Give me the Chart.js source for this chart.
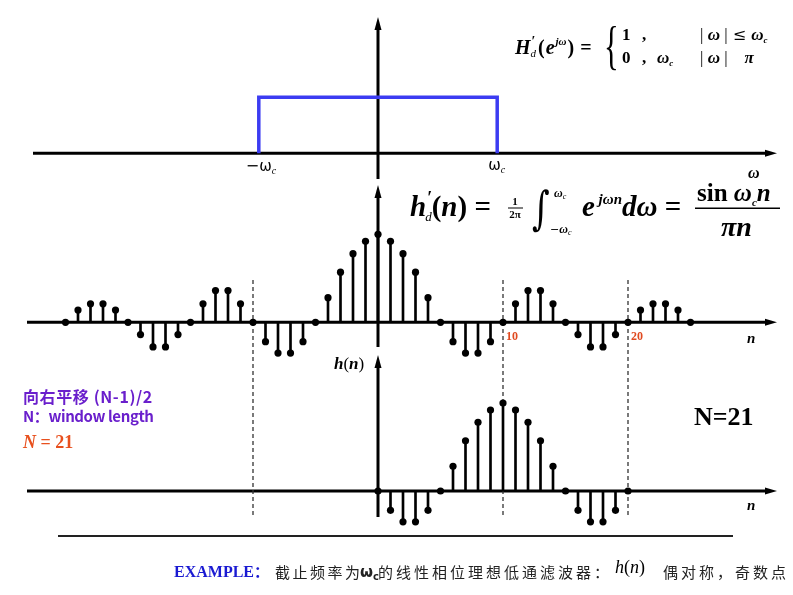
<!DOCTYPE html>
<html><head><meta charset="utf-8">
<script src="https://cdn.jsdelivr.net/npm/chart.js@4.4.1/dist/chart.umd.min.js"></script>
<style>html,body{margin:0;padding:0;background:#fff}#wrap{width:793px;height:595px;position:relative}</style>
</head><body><div id="wrap"><canvas id="c" width="793" height="595"></canvas></div>
<script>
// ---- data ----
// ideal low-pass response, ω in units of ωc
const omegaPts = [-1, -1, 1, 1];
const HdMag    = [0, 1, 1, 0];
// ideal impulse response h'd(n), normalised so h'd(0)=1
const nIdeal = [-25,-24,-23,-22,-21,-20,-19,-18,-17,-16,-15,-14,-13,-12,-11,-10,-9,-8,-7,-6,-5,-4,-3,-2,-1,0,
                1,2,3,4,5,6,7,8,9,10,11,12,13,14,15,16,17,18,19,20,21,22,23,24,25];
const hdIdeal = [0,0.14,0.21,0.21,0.14,0,-0.14,-0.28,-0.28,-0.14,0,0.21,0.36,0.36,0.21,0,-0.22,-0.35,-0.35,-0.22,0,0.28,0.57,0.78,0.92,1,
                 0.92,0.78,0.57,0.28,0,-0.22,-0.35,-0.35,-0.22,0,0.21,0.36,0.36,0.21,0,-0.14,-0.28,-0.28,-0.14,0,0.14,0.21,0.21,0.14,0];
// shifted, windowed h(n), N = 21
const nShift = [0,1,2,3,4,5,6,7,8,9,10,11,12,13,14,15,16,17,18,19,20];
const hShift = [0,-0.22,-0.35,-0.35,-0.22,0,0.28,0.57,0.78,0.92,1,0.92,0.78,0.57,0.28,0,-0.22,-0.35,-0.35,-0.22,0];
// dashed window marks and tick labels
const windowMarks = [-10, 10, 20];
const tickValues  = [10, 20];
const tickLabels  = ['10', '20'];

const W = 793, H = 595;
const pts = (xs, ys) => xs.map((x, i) => ({x: x, y: ys[i]}));

function seq(ctx, x, y, parts) {
  ctx.textAlign = 'left'; ctx.textBaseline = 'alphabetic';
  for (const p of parts) {
    const [t, f, dy = 0, dx = 0] = p;
    ctx.font = f;
    ctx.fillText(t, x + dx, y + dy);
    x += dx + ctx.measureText(t).width;
  }
  return x;
}
function hArrow(ctx, x1, x2, y) {
  ctx.beginPath(); ctx.moveTo(x1, y); ctx.lineTo(x2 - 8, y); ctx.stroke();
  ctx.beginPath(); ctx.moveTo(x2, y); ctx.lineTo(x2 - 12, y - 3.5); ctx.lineTo(x2 - 12, y + 3.5); ctx.closePath(); ctx.fill();
}
function vArrow(ctx, x, y1, y2) { // y2 = tip (top)
  ctx.beginPath(); ctx.moveTo(x, y1); ctx.lineTo(x, y2 + 8); ctx.stroke();
  ctx.beginPath(); ctx.moveTo(x, y2); ctx.lineTo(x - 3.5, y2 + 13); ctx.lineTo(x + 3.5, y2 + 13); ctx.closePath(); ctx.fill();
}

const SER = "'Liberation Serif'";
const deco = {
  id: 'deco',
  beforeDatasetsDraw(chart) {
    const ctx = chart.ctx, s = chart.scales;
    const x0 = s.x.getPixelForValue(0);
    const yT = s.yTop.getPixelForValue(0), yM = s.yMid.getPixelForValue(0), yB = s.yBot.getPixelForValue(0);
    ctx.save();
    ctx.strokeStyle = '#000'; ctx.fillStyle = '#000'; ctx.lineWidth = 3;
    hArrow(ctx, 33, 777, yT);
    hArrow(ctx, 27, 777, yM);
    hArrow(ctx, 27, 777, yB);
    vArrow(ctx, x0, 179, 17);
    vArrow(ctx, x0, 347, 185);
    vArrow(ctx, x0, 517, 355);
    // dashed window marks
    ctx.lineWidth = 1.3; ctx.strokeStyle = '#333'; ctx.setLineDash([4, 3]);
    for (const m of windowMarks) {
      const px = s.x.getPixelForValue(m);
      ctx.beginPath(); ctx.moveTo(px, 280); ctx.lineTo(px, 515); ctx.stroke();
    }
    ctx.setLineDash([]);
    // separator
    ctx.strokeStyle = '#222'; ctx.lineWidth = 2;
    ctx.beginPath(); ctx.moveTo(58, 536); ctx.lineTo(733, 536); ctx.stroke();
    ctx.restore();
  },
  afterDatasetsDraw(chart) {
    const ctx = chart.ctx, s = chart.scales;
    ctx.save();
    ctx.fillStyle = '#000';
    // ω-axis labels
    const wl = s.xw.getPixelForValue(-1), wr = s.xw.getPixelForValue(1);
    seq(ctx, wl - 13, 171, [['−', "16px 'DejaVu Sans'"], ['ω', "15px 'DejaVu Sans'"], ['c', "italic 10px " + SER, 3]]);
    seq(ctx, wr - 9, 170, [['ω', "15px 'DejaVu Sans'"], ['c', "italic 10px " + SER, 3]]);
    seq(ctx, 748, 178, [['ω', "bold italic 16px " + SER]]);
    // n labels
    seq(ctx, 747, 343, [['n', "bold italic 15px " + SER]]);
    seq(ctx, 747, 510, [['n', "bold italic 15px " + SER]]);
    seq(ctx, 334, 369, [['h', "bold italic 17px " + SER], ['(', "17px " + SER], ['n', "bold italic 17px " + SER], [')', "17px " + SER]]);
    // red tick labels
    ctx.fillStyle = '#e04a20';
    tickValues.forEach((v, i) => {
      seq(ctx, s.x.getPixelForValue(v) + 3, 340, [[tickLabels[i], "bold 12px " + SER]]);
    });
    // top formula
    ctx.fillStyle = '#000';
    const B16 = "bold 17px " + SER, BI16 = "bold italic 17px " + SER;
    const B19 = "bold 20px " + SER, BI19 = "bold italic 20px " + SER;
    seq(ctx, 515, 54, [['H', BI19], ['′', "bold 14px " + SER, -8, 1], ['d', "italic 11px " + SER, 3, -5], ['(', B19, 0, 2], ['e', BI19, 0, 1], ['jω', "bold italic 11px " + SER, -9, 1], [')', B19, 0, 1], ['=', B19, 0, 6]]);
    ctx.save(); ctx.translate(604, 63); ctx.scale(0.9, 1.55); ctx.font = "34px " + SER; ctx.fillText('{', 0, 0); ctx.restore();
    seq(ctx, 622, 40, [['1', B16]]); seq(ctx, 642, 40, [[',', B16]]);
    seq(ctx, 622, 63, [['0', B16]]); seq(ctx, 642, 63, [[',', B16]]);
    seq(ctx, 657, 63, [['ω', BI16], ['c', "bold italic 9px " + SER, 3]]);
    seq(ctx, 700, 40, [['| ', "17px " + SER], ['ω', BI16], [' |', "17px " + SER], [' ≤ ', "16px 'DejaVu Serif'"], ['ω', BI16], ['c', "bold italic 9px " + SER, 3]]);
    seq(ctx, 700, 63, [['| ', "17px " + SER], ['ω', BI16], [' |', "17px " + SER], ['    π', BI16]]);
    // middle formula
    const B28 = "bold 29px " + SER, BI28 = "bold italic 29px " + SER;
    seq(ctx, 410, 216, [['h', BI28], ['′', "bold 18px " + SER, -12, 1], ['d', "italic 13px " + SER, 5, -7], ['(', B28], ['n', BI28], [')', B28], [' = ', B28]]);
    ctx.font = "bold 11px " + SER; ctx.textAlign = 'center';
    ctx.fillText('1', 515, 205); ctx.fillText('2π', 515, 218);
    ctx.fillRect(508, 207.5, 15, 1);
    ctx.save(); ctx.translate(532, 224); ctx.scale(1, 1.35); ctx.font = "34px 'DejaVu Serif'"; ctx.textAlign = 'left'; ctx.fillText('∫', 0, 0); ctx.restore();
    seq(ctx, 554, 197, [['ω', "bold italic 12px " + SER], ['c', "italic 8px " + SER, 2]]);
    seq(ctx, 550, 233, [['−', "11px 'DejaVu Sans'"], ['ω', "bold italic 12px " + SER], ['c', "italic 8px " + SER, 2]]);
    seq(ctx, 582, 216, [['e', BI28], [' jωn', "bold italic 15px " + SER, -12], ['dω', BI28], [' =', B28]]);
    seq(ctx, 697, 201, [['sin ', "bold 25px " + SER], ['ω', "bold italic 25px " + SER], ['c', "bold italic 11px " + SER, 5], ['n', "bold italic 25px " + SER]]);
    ctx.fillRect(695, 207.5, 85, 1.5);
    seq(ctx, 721, 236, [['πn', "bold italic 28px " + SER]]);
    // N=21
    seq(ctx, 694, 425, [['N=21', "bold 26px " + SER]]);
    // left notes
    ctx.fillStyle = '#6a1fcc';
    ctx.textBaseline = 'middle';
    ctx.textAlign = 'left';
    ctx.font = "bold 16px 'Noto Sans CJK SC'";
    ctx.letterSpacing = '0.6px';
    ctx.fillText('向右平移 (N-1)/2', 23, 397);
    ctx.font = "bold 15px 'Noto Sans CJK SC'";
    ctx.letterSpacing = '-0.4px';
    ctx.fillText('N：window length', 23, 416);
    ctx.letterSpacing = '0px';
    ctx.fillStyle = '#e8501e';
    seq(ctx, 23, 448, [['N', "bold italic 18px " + SER], [' = 21', "bold 18px " + SER]]);
    // bottom caption
    ctx.fillStyle = '#1a1ad2';
    seq(ctx, 174, 577, [['EXAMPLE', "bold 16px " + SER], ['：', "bold 15px 'Noto Sans CJK SC'"]]);
    ctx.fillStyle = '#222';
    ctx.letterSpacing = '2.5px';
    seq(ctx, 275, 578, [['截止频率为', "15px 'Noto Sans CJK SC'"]]);
    ctx.letterSpacing = '0px';
    seq(ctx, 360, 577, [['ω', "bold 15px 'DejaVu Sans'"], ['c', "bold 10px 'DejaVu Sans'", 3]]);
    ctx.letterSpacing = '3px';
    seq(ctx, 378, 578, [['的线性相位理想低通滤波器：', "15px 'Noto Sans CJK SC'"]]);
    ctx.letterSpacing = '0px';
    ctx.fillStyle = '#000';
    seq(ctx, 615, 573, [['h', "italic 18px " + SER], ['(', "18px " + SER], ['n', "italic 18px " + SER], [')', "18px " + SER]]);
    ctx.fillStyle = '#222';
    ctx.letterSpacing = '3px';
    seq(ctx, 663, 578, [['偶对称，奇数点', "15px 'Noto Sans CJK SC'"]]);
    ctx.letterSpacing = '0px';
    ctx.restore();
  }
};

const stem = {type: 'bar', grouped: false, barThickness: 2, backgroundColor: '#000', borderWidth: 0, xAxisID: 'x'};
const dot  = {type: 'scatter', pointRadius: 3.6, pointBackgroundColor: '#000', pointBorderWidth: 0, showLine: false, xAxisID: 'x'};

new Chart(document.getElementById('c'), {
  type: 'scatter',
  data: {
    datasets: [
      {type: 'line', data: pts(omegaPts, HdMag), xAxisID: 'xw', yAxisID: 'yTop', borderColor: '#3c3cf2', borderWidth: 3.5,
       pointRadius: 0, fill: false, tension: 0, borderJoinStyle: 'miter', borderCapStyle: 'butt'},
      Object.assign({}, stem, {yAxisID: 'yMid', data: pts(nIdeal, hdIdeal)}),
      Object.assign({}, dot,  {yAxisID: 'yMid', data: pts(nIdeal, hdIdeal)}),
      Object.assign({}, stem, {yAxisID: 'yBot', data: pts(nShift, hShift)}),
      Object.assign({}, dot,  {yAxisID: 'yBot', data: pts(nShift, hShift)})
    ]
  },
  options: {
    responsive: false, animation: false, devicePixelRatio: 1,
    layout: {padding: 0, autoPadding: false},
    plugins: {legend: {display: false}, tooltip: {enabled: false}, title: {display: false}},
    scales: {
      x:    {type: 'linear', display: false, offset: false, min: -378 / 12.5, max: (W - 378) / 12.5},
      xw:   {type: 'linear', display: false, offset: false, min: -378 / 119.2, max: (W - 378) / 119.2},
      yTop: {type: 'linear', display: false, min: -(H - 153.3) / 56, max: 153.3 / 56},
      yMid: {type: 'linear', display: false, min: -(H - 322.3) / 88, max: 322.3 / 88},
      yBot: {type: 'linear', display: false, min: -(H - 491) / 88, max: 491 / 88}
    }
  },
  plugins: [deco]
});
</script></body></html>
